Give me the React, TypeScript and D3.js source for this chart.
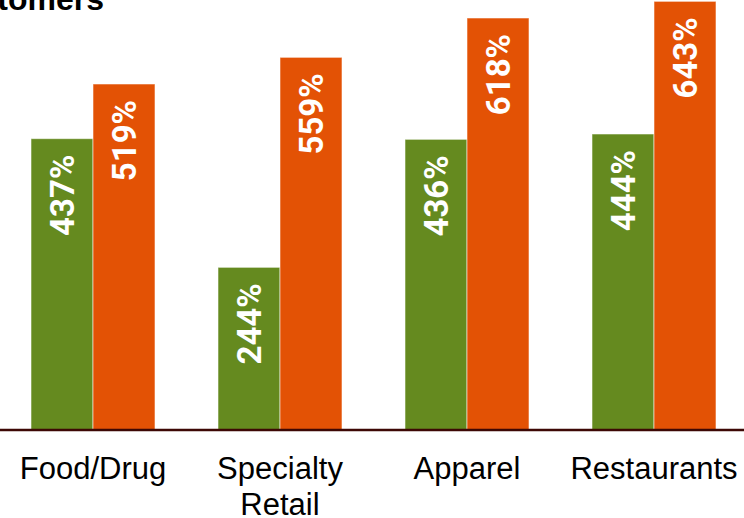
import React from "react";
import { scaleBand, scaleLinear } from "d3";

const categories = ["Food/Drug", "Specialty\nRetail", "Apparel", "Restaurants"];
const seriesNames = ["prior", "current"];
const priorValues = [437, 244, 436, 444];
const currentValues = [519, 559, 618, 643];
const colors = ["#658a1f", "#e35205"];

const width = 744;
const height = 518;
const baseline = 430;

export default function App() {
  const x = scaleBand<string>()
    .domain(categories)
    .range([-0.5, 747.5])
    .paddingInner(0.337)
    .paddingOuter(0.1685);

  const xInner = scaleBand<string>()
    .domain(seriesNames)
    .range([0, x.bandwidth()]);

  const y = scaleLinear().domain([0, 645]).range([baseline, 0]);

  const series = [priorValues, currentValues];

  return (
    <svg
      width={width}
      height={height}
      style={{ position: "absolute", left: 0, top: 0, background: "#fff" }}
    >
      {/* title, cut off on the left */}
      <text
        x={104}
        y={10}
        textAnchor="end"
        fontFamily="Liberation Sans, Arial, sans-serif"
        fontWeight="bold"
        fontSize={32}
        fill="#000"
      >
        Customers
      </text>

      {/* bars */}
      {categories.map((cat, ci) => (
        <g key={cat} transform={`translate(${x(cat)},0)`}>
          {series.map((vals, si) => {
            const bx = xInner(seriesNames[si]) ?? 0;
            const by = y(vals[ci]);
            const bw = xInner.bandwidth();
            const cx = bx + bw / 2;
            const ty = by + 16;
            return (
              <g key={si}>
                <rect
                  x={bx}
                  y={by}
                  width={bw}
                  height={baseline - by}
                  fill={colors[si]}
                  stroke="rgba(255,255,255,0.55)"
                  strokeWidth={1}
                />
                <text
                  x={cx}
                  y={ty}
                  transform={`rotate(-90, ${cx}, ${ty})`}
                  textAnchor="end"
                  dy="0.36em"
                  fontFamily="Roboto, sans-serif"
                  fontWeight="bold"
                  fontSize={33}
                  fill="#fff"
                >
                  {vals[ci]}%
                </text>
              </g>
            );
          })}
        </g>
      ))}

      {/* baseline */}
      <line x1={0} x2={width} y1={baseline} y2={baseline} stroke="#3d0805" strokeWidth={2.5} />

      {/* category labels */}
      {categories.map((cat) => (
        <text
          key={cat}
          x={(x(cat) ?? 0) + x.bandwidth() / 2}
          y={479}
          textAnchor="middle"
          fontFamily="Liberation Sans, Arial, sans-serif"
          fontSize={31}
          fill="#000"
        >
          {cat.split("\n").map((line, i) => (
            <tspan key={i} x={(x(cat) ?? 0) + x.bandwidth() / 2} dy={i === 0 ? 0 : 36}>
              {line}
            </tspan>
          ))}
        </text>
      ))}
    </svg>
  );
}
